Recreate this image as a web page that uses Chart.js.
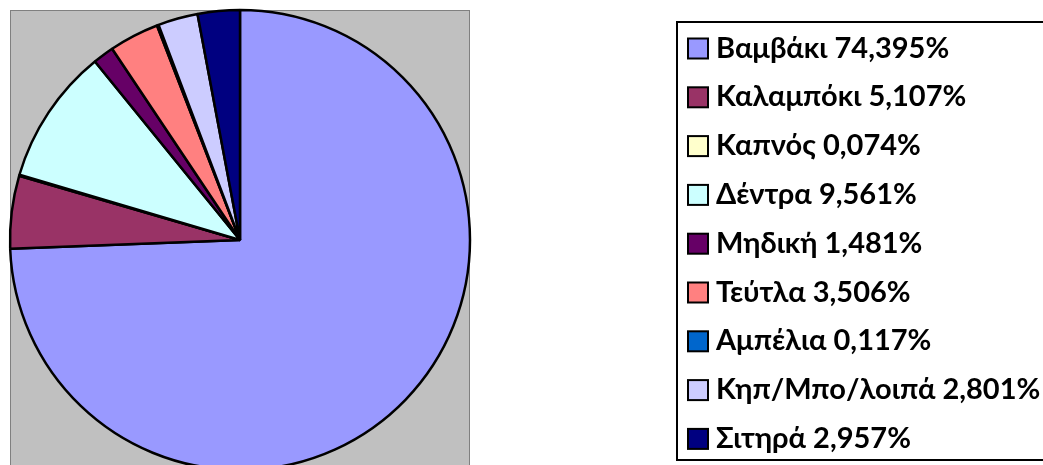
<!DOCTYPE html>
<html>
<head>
<meta charset="utf-8">
<script src="https://cdn.jsdelivr.net/npm/chart.js@4.4.1/dist/chart.umd.min.js"></script>
<style>
    html, body { margin: 0; padding: 0; background: #fff; overflow: hidden; }
    #wrap { position: relative; width: 1043px; height: 490px; }
</style>
</head>
<body>
<div id="wrap"><canvas id="cropChart" width="1043" height="490"></canvas></div>
<script>
const crops = ['Βαμβάκι', 'Καλαμπόκι', 'Καπνός', 'Δέντρα', 'Μηδική', 'Τεύτλα', 'Αμπέλια', 'Κηπ/Μπο/λοιπά', 'Σιτηρά'];
const shares = [74.395, 5.107, 0.074, 9.561, 1.481, 3.506, 0.117, 2.801, 2.957];
const sliceColors = ['#9999FF', '#993366', '#FFFFCC', '#CCFFFF', '#660066', '#FF8080', '#0066CC', '#CCCCFF', '#000080'];

const legendFont = 'bold 29px Lato, "Noto Sans", sans-serif';

// grey plot area behind the pie
const plotBackground = {
    id: 'plotBackground',
    beforeDraw(chart) {
        const ctx = chart.ctx;
        ctx.save();
        ctx.fillStyle = '#C0C0C0';
        ctx.fillRect(10, 10, 460, 500);
        ctx.strokeStyle = '#808080';
        ctx.lineWidth = 1;
        ctx.strokeRect(10.5, 10.5, 459, 500);
        ctx.restore();
    }
};

// boxed legend on the right, like the spreadsheet one
const boxLegend = {
    id: 'boxLegend',
    afterDraw(chart) {
        const ctx = chart.ctx;
        const labels = chart.data.labels;
        const ds = chart.data.datasets[0];
        ctx.save();
        ctx.strokeStyle = '#000';
        ctx.lineWidth = 2;
        ctx.strokeRect(677, 22, 380, 438);

        ctx.font = legendFont;
        ctx.textBaseline = 'alphabetic';
        labels.forEach((label, i) => {
            const cy = 48.5 + i * 48.8;
            ctx.fillStyle = ds.backgroundColor[i];
            ctx.fillRect(688, cy - 10, 20, 20);
            ctx.strokeStyle = '#000';
            ctx.lineWidth = 2;
            ctx.strokeRect(688, cy - 10, 20, 20);
            ctx.fillStyle = '#000';
            const pct = ds.data[i].toFixed(3).replace('.', ',') + '%';
            ctx.fillText(`${label} ${pct}`, 716, cy + 9);
        });
        ctx.restore();
    }
};

new Chart(document.getElementById('cropChart').getContext('2d'), {
    type: 'pie',
    data: {
        labels: crops,
        datasets: [{
            data: shares,
            backgroundColor: sliceColors,
            borderColor: '#000',
            borderWidth: 2.5
        }]
    },
    options: {
        responsive: false,
        animation: false,
        radius: 230,
        layout: { padding: { left: 0, top: 0, right: 1043 - 480, bottom: 490 - 480 } },
        plugins: {
            legend: { display: false },
            tooltip: { enabled: false }
        }
    },
    plugins: [plotBackground, boxLegend]
});
</script>
</body>
</html>
